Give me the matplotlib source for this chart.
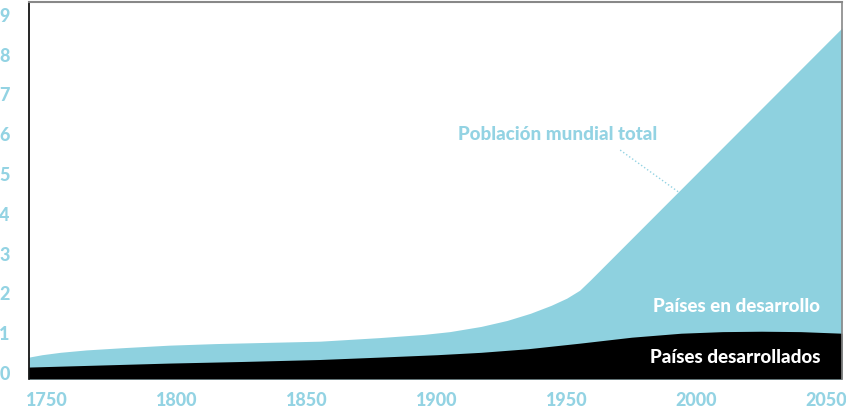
import matplotlib.pyplot as plt

# Datos (miles de millones de personas)
anios_total = [1743, 1748, 1755, 1765, 1780, 1797, 1815, 1835, 1855, 1878, 1895, 1905,
               1917, 1927, 1936, 1944, 1950, 1955, 1959, 2056]
poblacion_total = [0.40, 0.46, 0.52, 0.58, 0.64, 0.70, 0.74, 0.77, 0.80, 0.89, 0.97, 1.04,
                   1.17, 1.32, 1.50, 1.70, 1.88, 2.08, 2.33, 8.67]

anios_desarrollados = [1743, 1770, 1797, 1825, 1855, 1878, 1900, 1917, 1935, 1955,
                       1975, 1994, 2010, 2025, 2040, 2056]
poblacion_desarrollados = [0.15, 0.20, 0.25, 0.29, 0.34, 0.40, 0.46, 0.52, 0.61, 0.75,
                           0.90, 1.00, 1.04, 1.05, 1.04, 1.00]

anios_ticks = [1750, 1800, 1850, 1900, 1950, 2000, 2050]
valores_ticks = [0, 1, 2, 3, 4, 5, 6, 7, 8, 9]

azul = '#8ed1df'
azul_texto = '#93d3e3'

plt.rcParams['font.family'] = ['Lato', 'DejaVu Sans']
plt.rcParams['font.weight'] = 'black'

fig = plt.figure(figsize=(8.46, 4.09), dpi=100)
ax = fig.add_axes([29 / 846, 30 / 409, 813 / 846, 377 / 409])

y_min = -0.15
ax.fill_between(anios_total, y_min, poblacion_total, color=azul, linewidth=0)
ax.fill_between(anios_desarrollados, y_min, poblacion_desarrollados, color='black', linewidth=0)

ax.set_xlim(1743, 2056)
ax.set_ylim(y_min, 9.32)

ax.set_xticks(anios_ticks)
ax.set_yticks(valores_ticks)
ax.tick_params(length=0, colors=azul_texto, labelsize=13)
ax.tick_params(axis='y', pad=14)
ax.tick_params(axis='x', pad=9)

ax.spines['left'].set_color('black')
ax.spines['left'].set_linewidth(1.2)
ax.spines['bottom'].set_visible(False)
ax.spines['top'].set_color('#888888')
ax.spines['top'].set_linewidth(1.5)
ax.spines['right'].set_color('#888888')
ax.spines['right'].set_linewidth(1.2)

# Etiquetas
ax.text(1908, 5.98, 'Población mundial total', color=azul_texto, fontsize=13.5,
        fontweight='black', ha='left', va='center')
ax.plot([1970.6, 1993], [5.6, 4.55], color=azul_texto, linestyle=':', linewidth=1)
ax.text(2047.6, 1.68, 'Países en desarrollo', color='white', fontsize=13.5,
        fontweight='black', ha='right', va='center')
ax.text(2047.6, 0.40, 'Países desarrollados', color='white', fontsize=13.5,
        fontweight='black', ha='right', va='center')

fig.savefig('out.png', dpi=100)
